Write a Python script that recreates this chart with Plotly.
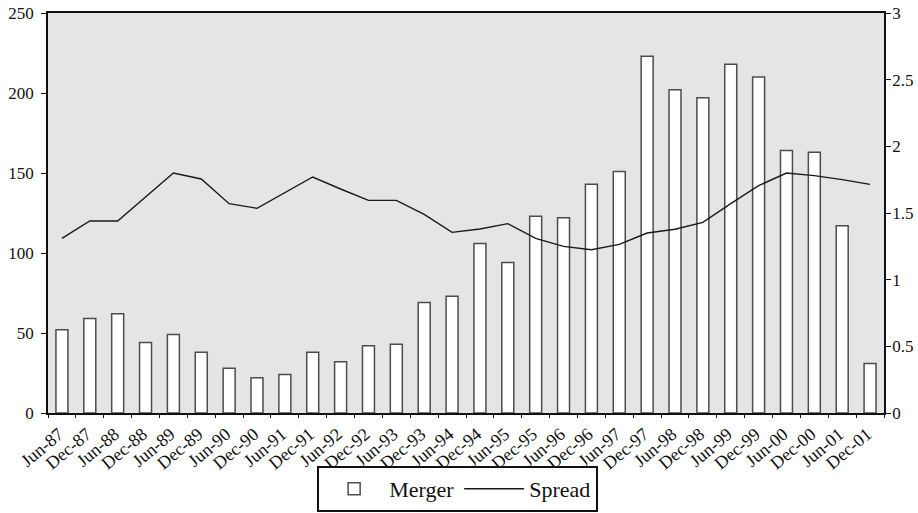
import plotly.graph_objects as go

categories = ["Jun-87", "Dec-87", "Jun-88", "Dec-88", "Jun-89", "Dec-89", "Jun-90", "Dec-90",
              "Jun-91", "Dec-91", "Jun-92", "Dec-92", "Jun-93", "Dec-93", "Jun-94", "Dec-94",
              "Jun-95", "Dec-95", "Jun-96", "Dec-96", "Jun-97", "Dec-97", "Jun-98", "Dec-98",
              "Jun-99", "Dec-99", "Jun-00", "Dec-00", "Jun-01", "Dec-01"]

merger = [52, 59, 62, 44, 49, 38, 28, 22, 24, 38, 32, 42, 43, 69, 73, 106,
          94, 123, 122, 143, 151, 223, 202, 197, 218, 210, 164, 163, 117, 31]

spread = [1.31, 1.44, 1.44, 1.62, 1.80, 1.755, 1.57, 1.535, 1.655, 1.77, 1.68, 1.595,
          1.595, 1.49, 1.355, 1.38, 1.42, 1.31, 1.25, 1.225, 1.265, 1.35, 1.378, 1.43,
          1.57, 1.705, 1.80, 1.78, 1.75, 1.715]

left_ticks = [0, 50, 100, 150, 200, 250]
right_ticks = [0, 0.5, 1, 1.5, 2, 2.5, 3]

FONT = "Liberation Serif"
INK = "#111111"

fig = go.Figure()
fig.add_trace(go.Bar(
    x=categories, y=merger, name="Merger",
    marker=dict(color="white", line=dict(color="#4d4d4d", width=1.5)),
    yaxis="y",
))
fig.add_trace(go.Scatter(
    x=categories, y=spread, name="Spread", mode="lines",
    line=dict(color="#1a1a1a", width=1.4),
    yaxis="y2",
))

n = len(categories)
boundaries = [i + 0.5 for i in range(n - 1)]

fig.update_layout(
    width=918, height=513,
    margin=dict(l=48, r=34, t=13, b=100, autoexpand=False),
    paper_bgcolor="white",
    plot_bgcolor="#e4e5e7",
    font=dict(family=FONT, color=INK, size=17),
    bargap=0.57,
    showlegend=True,
    legend=dict(
        orientation="h", x=0.49, xanchor="center", y=-0.2475, yanchor="bottom",
        bordercolor=INK, borderwidth=2, bgcolor="white",
        font=dict(family=FONT, size=22, color=INK),
        itemwidth=60, tracegroupgap=0,
    ),
    xaxis=dict(
        type="category", tickson="boundaries", tickangle=-40, automargin=False,
        ticks="outside", ticklen=3, tickcolor=INK, tickwidth=1,
        ticklabelshift=-3, ticklabelstandoff=2,
        showline=True, linecolor=INK, linewidth=1.5, mirror=True,
        showgrid=False, tickfont=dict(family=FONT, size=18),
    ),
    xaxis2=dict(
        overlaying="x", anchor="y", side="bottom", range=[-0.5, n - 0.5], automargin=False,
        tickvals=boundaries, ticks="inside", ticklen=3, tickcolor=INK, tickwidth=1,
        showticklabels=False, showline=False, showgrid=False, zeroline=False,
    ),
    yaxis=dict(
        range=[0, 250], tickvals=left_ticks, automargin=False,
        ticks="outside", ticklen=5, tickcolor=INK, ticklabelstandoff=4,
        showline=True, linecolor=INK, linewidth=1.5,
        showgrid=False, zeroline=False, tickfont=dict(family=FONT, size=17),
    ),
    yaxis3=dict(
        range=[0, 250], tickvals=left_ticks, overlaying="y", side="left", anchor="x",
        ticks="inside", ticklen=5, tickcolor=INK, showticklabels=False, automargin=False,
        showline=False, showgrid=False, zeroline=False,
    ),
    yaxis2=dict(
        range=[0, 3], tickvals=right_ticks, overlaying="y", side="right", automargin=False,
        ticks="outside", ticklen=5, tickcolor=INK, ticklabelstandoff=-2,
        showline=True, linecolor=INK, linewidth=1.5,
        showgrid=False, zeroline=False, tickfont=dict(family=FONT, size=17),
    ),
    yaxis4=dict(
        range=[0, 3], tickvals=right_ticks, overlaying="y", side="right", anchor="x",
        ticks="inside", ticklen=5, tickcolor=INK, showticklabels=False, automargin=False,
        showline=False, showgrid=False, zeroline=False,
    ),
)

# remove the browser's default 8px body margin so the 918x513 figure fills the window exactly
fig.write_html(
    "out.html",
    config={"displayModeBar": False},
    post_script="document.body.style.margin='0';document.body.style.overflow='hidden';",
)
